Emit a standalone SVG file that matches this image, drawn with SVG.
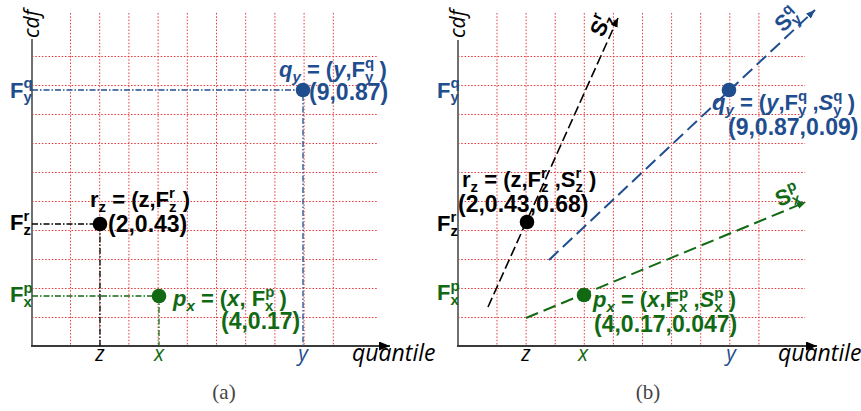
<svg xmlns="http://www.w3.org/2000/svg" width="861" height="411" viewBox="0 0 861 411">
<style>
.grid{stroke:#e8363a;stroke-width:1;stroke-dasharray:1.5 1.8;fill:none}
.yaxis{stroke:#707070;stroke-width:2;fill:none}
.xaxis{stroke:#3a3a3a;stroke-width:2;fill:none}
.lbl{font-family:"Liberation Sans",Arial,sans-serif;font-weight:bold;font-size:22px}
.num{font-size:23px}
.s{font-size:15px}
.ax{font-family:"Open Sans","Liberation Sans",sans-serif;font-style:italic;font-size:21px}
.q{font-size:23px}
.cap{font-family:"Liberation Serif",serif;font-size:21px;fill:#444;text-anchor:middle}
.blue{fill:#1F4E8F}
.green{fill:#116A13}
.dd{fill:none;stroke-width:1.3;stroke-dasharray:6 2 1.5 2}
</style>
<defs>
<marker id="axarr" markerUnits="userSpaceOnUse" markerWidth="12" markerHeight="10" refX="11" refY="4.5" orient="auto"><path d="M0,0 L11,4.5 L0,9 z" fill="#000"/></marker>
<marker id="arrK" markerUnits="userSpaceOnUse" markerWidth="10" markerHeight="8" refX="9" refY="3.5" orient="auto"><path d="M0,0 L9,3.5 L0,7 z" fill="#000"/></marker>
<marker id="arrB" markerUnits="userSpaceOnUse" markerWidth="10" markerHeight="8" refX="9" refY="3.5" orient="auto"><path d="M0,0 L9,3.5 L0,7 z" fill="#1F4E8F"/></marker>
<marker id="arrG" markerUnits="userSpaceOnUse" markerWidth="10" markerHeight="8" refX="9" refY="3.5" orient="auto"><path d="M0,0 L9,3.5 L0,7 z" fill="#116A13"/></marker>
</defs>

<!-- Panel (a) grid -->
<g id="grid-a" class="grid">
<path d="M32,56.5H378M32,85.5H378M32,114.5H378M32,143.5H378M32,172.5H378M32,201.5H378M32,230.5H378M32,259.5H378M32,288.5H378M32,317.5H378"/>
<path d="M70.5,13V346M99.7,13V346M128.9,13V346M158.1,13V346M187.3,13V346M216.5,13V346M245.7,13V346M274.9,13V346M304.1,13V346M333.3,13V346"/>
</g>
<!-- Panel (b) grid -->
<g id="grid-b" class="grid">
<path d="M458,56.5H805M458,85.5H805M458,114.5H805M458,143.5H805M458,172.5H805M458,201.5H805M458,230.5H805M458,259.5H805M458,288.5H805M458,317.5H805"/>
<path d="M497,13V346M526.1,13V346M555.2,13V346M584.3,13V346M613.4,13V346M642.5,13V346M671.6,13V346M700.7,13V346M729.8,13V346M758.9,13V346"/>
</g>

<!-- Axes -->
<g id="axes-a">
<line class="yaxis" x1="32" y1="39" x2="32" y2="347"/>
<line class="xaxis" x1="31" y1="346" x2="390" y2="346" marker-end="url(#axarr)"/>
<text class="ax" transform="translate(39,38) rotate(-90)">cdf</text>
<text class="ax q" x="352" y="361">quantile</text>
<text class="ax" x="100" y="361" text-anchor="middle">z</text>
<text class="ax green" x="159" y="361" text-anchor="middle">x</text>
<text class="ax blue" x="303" y="361" text-anchor="middle">y</text>
<text class="lbl blue" x="10" y="97.5">F<tspan class="s" dy="-9.5">q</tspan><tspan class="s" dx="-9.2" dy="14">y</tspan></text>
<text class="lbl" x="10" y="230">F<tspan class="s" dy="-9.5">r</tspan><tspan class="s" dx="-5.8" dy="14">z</tspan></text>
<text class="lbl green" x="10" y="302">F<tspan class="s" dy="-9.5">p</tspan><tspan class="s" dx="-9.2" dy="14">x</tspan></text>
<text class="cap" x="224" y="399">(a)</text>
</g>
<g id="axes-b">
<line class="yaxis" x1="458" y1="40" x2="458" y2="347"/>
<line class="xaxis" x1="457" y1="346" x2="817" y2="346" marker-end="url(#axarr)"/>
<text class="ax" transform="translate(465,38) rotate(-90)">cdf</text>
<text class="ax q" x="778" y="361">quantile</text>
<text class="ax" x="526" y="361" text-anchor="middle">z</text>
<text class="ax green" x="583" y="361" text-anchor="middle">x</text>
<text class="ax blue" x="731" y="361" text-anchor="middle">y</text>
<text class="lbl blue" x="437" y="97.5">F<tspan class="s" dy="-9.5">q</tspan><tspan class="s" dx="-9.2" dy="14">y</tspan></text>
<text class="lbl" x="437" y="231">F<tspan class="s" dy="-9.5">r</tspan><tspan class="s" dx="-5.8" dy="14">z</tspan></text>
<text class="lbl green" x="437" y="300">F<tspan class="s" dy="-9.5">p</tspan><tspan class="s" dx="-9.2" dy="14">x</tspan></text>
<text class="cap" x="648" y="399">(b)</text>
</g>

<!-- Connectors -->
<g id="connectors">
<path class="dd" stroke="#1F4E8F" d="M32,90H303V346"/>
<path class="dd" stroke="#000" d="M32,224H100V346"/>
<path class="dd" stroke="#116A13" d="M32,296H159V346"/>
<line stroke="#000" stroke-width="1.6" stroke-dasharray="10 4" x1="488" y1="307" x2="618" y2="18" marker-end="url(#arrK)"/>
<line stroke="#1F4E8F" stroke-width="2" stroke-dasharray="13 6" x1="549" y1="260" x2="815" y2="10" marker-end="url(#arrB)"/>
<line stroke="#116A13" stroke-width="2" stroke-dasharray="13 6" x1="526" y1="318" x2="806" y2="202" marker-end="url(#arrG)"/>
<text class="lbl" transform="translate(603,38) rotate(-65.8)">S<tspan class="s" dy="-9.5">r</tspan><tspan class="s" dx="-5.8" dy="14">z</tspan></text>
<text class="lbl blue" transform="translate(783,33) rotate(-43.2)">S<tspan class="s" dy="-9.5">q</tspan><tspan class="s" dx="-9.2" dy="14">y</tspan></text>
<text class="lbl green" transform="translate(779,207) rotate(-22.6)">S<tspan class="s" dy="-9.5">p</tspan><tspan class="s" dx="-9.2" dy="14">x</tspan></text>
</g>

<!-- Nodes panel (a) -->
<g id="node-a-qy">
<circle cx="303" cy="90" r="7.3" fill="#1F4E8F"/>
<text class="lbl blue" x="279" y="77"><tspan font-style="italic">q</tspan><tspan class="s" font-style="italic" dy="5">y</tspan><tspan dy="-5"> = (</tspan><tspan font-style="italic">y</tspan>,F<tspan class="s" dy="-9.5">q</tspan><tspan class="s" dx="-9.2" dy="14">y</tspan><tspan dy="-4.5"> )</tspan></text>
<text class="lbl num blue" x="309" y="100">(9,0.87)</text>
</g>
<g id="node-a-rz">
<circle cx="100" cy="224" r="7.3" fill="#000"/>
<text class="lbl" x="90" y="207">r<tspan class="s" dy="5">z</tspan><tspan dy="-5"> = (z,F</tspan><tspan class="s" dy="-9.5">r</tspan><tspan class="s" dx="-5.8" dy="14">z</tspan><tspan dy="-4.5"> )</tspan></text>
<text class="lbl num" x="108" y="232">(2,0.43)</text>
</g>
<g id="node-a-px">
<circle cx="159" cy="296" r="7.3" fill="#116A13"/>
<text class="lbl green" x="173" y="306"><tspan font-style="italic">p</tspan><tspan class="s" font-style="italic" dy="5">x</tspan><tspan dy="-5"> = (</tspan><tspan font-style="italic">x</tspan>, F<tspan class="s" dy="-9.5">p</tspan><tspan class="s" dx="-9.2" dy="14">x</tspan><tspan dy="-4.5"> )</tspan></text>
<text class="lbl num green" x="221" y="329">(4,0.17)</text>
</g>

<!-- Nodes panel (b) -->
<g id="node-b-rz">
<circle cx="527" cy="222" r="7.3" fill="#000"/>
<text class="lbl" x="462" y="187">r<tspan class="s" dy="5">z</tspan><tspan dy="-5"> = (z,F</tspan><tspan class="s" dy="-9.5">r</tspan><tspan class="s" dx="-5.8" dy="14">z</tspan><tspan dy="-4.5"> ,S</tspan><tspan class="s" dy="-9.5">r</tspan><tspan class="s" dx="-5.8" dy="14">z</tspan><tspan dy="-4.5"> )</tspan></text>
<text class="lbl num" x="458" y="212">(2,0.43,0.68)</text>
</g>
<g id="node-b-qy">
<circle cx="729" cy="90" r="7.3" fill="#1F4E8F"/>
<text class="lbl blue" x="712" y="110"><tspan font-style="italic">q</tspan><tspan class="s" font-style="italic" dy="5">y</tspan><tspan dy="-5"> = (</tspan><tspan font-style="italic">y</tspan>,F<tspan class="s" dy="-9.5">q</tspan><tspan class="s" dx="-9.2" dy="14">y</tspan><tspan dy="-4.5"> ,</tspan><tspan font-style="italic">S</tspan><tspan class="s" dy="-9.5">q</tspan><tspan class="s" dx="-9.2" dy="14">y</tspan><tspan dy="-4.5"> )</tspan></text>
<text class="lbl num blue" x="728" y="135">(9,0.87,0.09)</text>
</g>
<g id="node-b-px">
<circle cx="584" cy="295" r="7.3" fill="#116A13"/>
<text class="lbl green" x="593" y="307"><tspan font-style="italic">p</tspan><tspan class="s" font-style="italic" dy="5">x</tspan><tspan dy="-5"> = (</tspan><tspan font-style="italic">x</tspan>,F<tspan class="s" dy="-9.5">p</tspan><tspan class="s" dx="-9.2" dy="14">x</tspan><tspan dy="-4.5"> ,</tspan><tspan font-style="italic">S</tspan><tspan class="s" dy="-9.5">p</tspan><tspan class="s" dx="-9.2" dy="14">x</tspan><tspan dy="-4.5"> )</tspan></text>
<text class="lbl num green" x="594" y="332">(4,0.17,0.047)</text>
</g>
</svg>
